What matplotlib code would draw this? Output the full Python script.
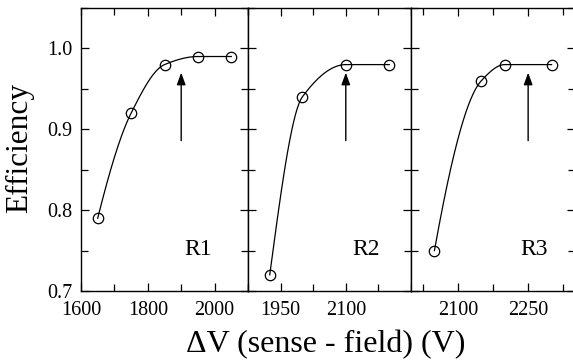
import numpy as np
import matplotlib
matplotlib.use('Agg')
import matplotlib.pyplot as plt
from matplotlib.ticker import MultipleLocator, FixedLocator

plt.rcParams['font.family'] = ['Liberation Serif', 'DejaVu Serif']

# Data
r1_v = [1650, 1750, 1850, 1950, 2050]
r1_eff = [0.79, 0.92, 0.98, 0.99, 0.99]
r2_v = [1925, 2000, 2100, 2200]
r2_eff = [0.72, 0.94, 0.98, 0.98]
r3_v = [2050, 2150, 2200, 2300]
r3_eff = [0.75, 0.96, 0.98, 0.98]
arrow_v = [1900, 2100, 2250]
names = ['R1', 'R2', 'R3']


def smooth(x, y, n=300):
    # monotone cubic (Fritsch-Carlson) curve through the measured points
    x = np.asarray(x, float)
    y = np.asarray(y, float)
    h = np.diff(x)
    d = np.diff(y) / h
    m = np.zeros(len(x))
    for i in range(1, len(x) - 1):
        if d[i - 1] * d[i] > 0:
            w1 = 2 * h[i] + h[i - 1]
            w2 = h[i] + 2 * h[i - 1]
            m[i] = (w1 + w2) / (w1 / d[i - 1] + w2 / d[i])
    m[0] = ((2 * h[0] + h[1]) * d[0] - h[0] * d[1]) / (h[0] + h[1])
    if m[0] * d[0] <= 0:
        m[0] = 0
    m[-1] = ((2 * h[-1] + h[-2]) * d[-1] - h[-1] * d[-2]) / (h[-1] + h[-2])
    if m[-1] * d[-1] <= 0:
        m[-1] = 0
    xs = np.linspace(x[0], x[-1], n)
    k = np.clip(np.searchsorted(x, xs) - 1, 0, len(x) - 2)
    t = (xs - x[k]) / h[k]
    h00 = 2 * t ** 3 - 3 * t ** 2 + 1
    h10 = t ** 3 - 2 * t ** 2 + t
    h01 = -2 * t ** 3 + 3 * t ** 2
    h11 = t ** 3 - t ** 2
    ys = h00 * y[k] + h10 * h[k] * m[k] + h01 * y[k + 1] + h11 * h[k] * m[k + 1]
    return xs, ys


W, H = 573, 362
fig = plt.figure(figsize=(W / 100, H / 100), dpi=100)

rects = [(81, 167), (248, 163), (411, 164)]
xlims = [(1600, 2100), (1875, 2250), (2000, 2350)]
majors = [[1600, 1800, 2000], [1950, 2100], [2100, 2250]]
minors = [100, 75, 75]
label_x = [1950, 2146, 2263]
series = [(r1_v, r1_eff), (r2_v, r2_eff), (r3_v, r3_eff)]

for i in range(3):
    x0, w = rects[i]
    ax = fig.add_axes([x0 / W, 71 / H, w / W, 283 / H])
    v, eff = series[i]
    xs, ys = smooth(v, eff)
    ax.plot(xs, ys, color='black', lw=0.9)
    ax.plot(v, eff, 'o', ms=7.5, mfc='none', mec='black', mew=0.9)
    ax.annotate('', xy=(arrow_v[i], 0.970), xytext=(arrow_v[i], 0.886),
                arrowprops=dict(arrowstyle='-|>,head_length=0.6,head_width=0.22',
                                color='black', lw=1.0, mutation_scale=12,
                                shrinkA=0, shrinkB=0))
    ax.text(label_x[i], 0.751, names[i], fontsize=17, ha='center', va='center')

    ax.set_xlim(*xlims[i])
    ax.set_ylim(0.7, 1.05)
    ax.xaxis.set_major_locator(FixedLocator(majors[i]))
    ax.xaxis.set_minor_locator(MultipleLocator(minors[i]))
    ax.yaxis.set_major_locator(FixedLocator([0.7, 0.8, 0.9, 1.0]))
    ax.yaxis.set_minor_locator(MultipleLocator(0.05))
    ax.tick_params(which='both', direction='in', top=True, right=True,
                   width=0.9, labelsize=14.5)
    ax.tick_params(which='major', length=6)
    ax.tick_params(which='minor', length=5)
    ax.tick_params(axis='x', pad=7)
    ax.tick_params(axis='y', pad=6)
    if i == 0:
        ax.set_yticklabels(['0.7', '0.8', '0.9', '1.0'])
    else:
        ax.tick_params(axis='y', labelleft=False)
    for s in ax.spines.values():
        s.set_linewidth(1.0)

fig.text(20 / W, 0.5925, 'Efficiency', rotation=90, ha='center', va='center',
         fontsize=22.5)
fig.text(326 / W, 0.027, 'ΔV (sense - field) (V)', ha='center', va='baseline',
         fontsize=23)

fig.savefig('out.png', dpi=100)
